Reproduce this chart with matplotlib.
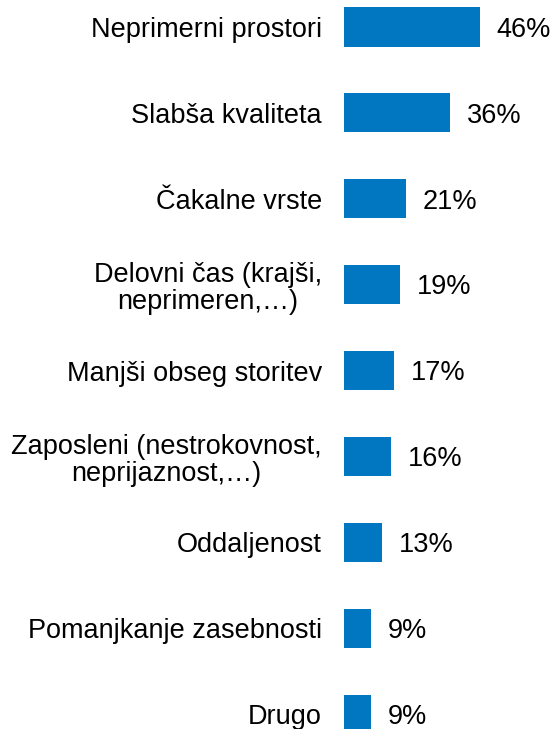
import numpy as np
import matplotlib.pyplot as plt

plt.rcParams['font.family'] = ['Liberation Sans', 'DejaVu Sans']

categories = [
    "Neprimerni prostori",
    "Slabša kvaliteta",
    "Čakalne vrste",
    "Delovni čas (krajši,\nneprimeren,…)",
    "Manjši obseg storitev",
    "Zaposleni (nestrokovnost,\nneprijaznost,…)",
    "Oddaljenost",
    "Pomanjkanje zasebnosti",
    "Drugo",
]
values = [46, 36, 21, 19, 17, 16, 13, 9, 9]
value_labels = ["46%", "36%", "21%", "19%", "17%", "16%", "13%", "9%", "9%"]

fig = plt.figure(figsize=(5.54, 7.29), dpi=100)
ax = fig.add_axes([344 / 554, 0, 1 - 344 / 554, 1])

y = np.arange(len(categories))
ax.barh(y, values, height=0.455, color='#0077C0')

ax.set_xlim(0, 71)
ax.set_ylim(8.172, -0.314)

ax.set_yticks(y)
ax.set_yticklabels(categories, fontsize=19.5, multialignment='center', linespacing=1.05)
ax.tick_params(axis='y', length=0, pad=16)
ax.set_xticks([])
for s in ax.spines.values():
    s.set_visible(False)

# value labels sit a bit below the bar centre
for yi, v, lab in zip(y, values, value_labels):
    ax.annotate(lab, (v, yi), xytext=(12, -2), textcoords='offset points',
                va='center', ha='left', fontsize=19.5)

fig.savefig('out.png', dpi=100)
